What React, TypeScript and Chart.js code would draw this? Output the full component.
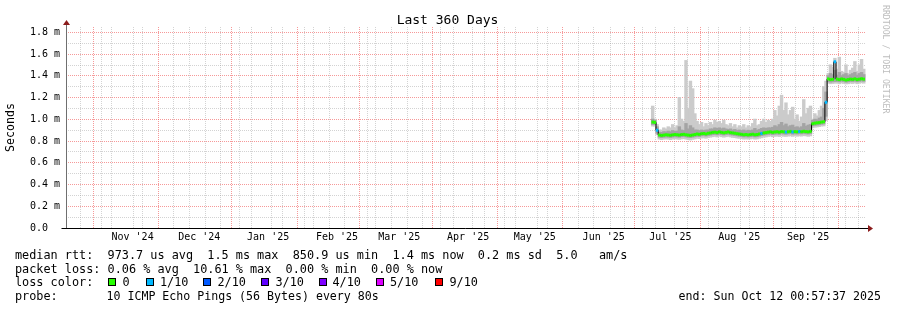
import React, { useEffect, useRef } from "react";
import { Chart, registerables } from "chart.js";

Chart.register(...registerables);

// ---------- time frame ----------
const END_TIME = Date.UTC(2025, 9, 12, 0, 57, 37);
const SPAN_DAYS = 360;
const START_TIME = END_TIME - SPAN_DAYS * 864e5;
const dayOf = (t: number) => (t - START_TIME) / 864e5;

// month grid / labels
const monthStarts: [number, number][] = [
  [2024, 10], [2024, 11], [2025, 0], [2025, 1], [2025, 2], [2025, 3],
  [2025, 4], [2025, 5], [2025, 6], [2025, 7], [2025, 8], [2025, 9],
];
const monthLabels = ["Nov '24", "Dec '24", "Jan '25", "Feb '25", "Mar '25", "Apr '25", "May '25", "Jun '25", "Jul '25", "Aug '25", "Sep '25"];
const firstWeekLine = Date.UTC(2024, 9, 20); // Sundays

// y ticks
const yTicks = [0, 0.1, 0.2, 0.3, 0.4, 0.5, 0.6, 0.7, 0.8, 0.9, 1.0, 1.1, 1.2, 1.3, 1.4, 1.5, 1.6, 1.7, 1.8];
const yTickLabels: Record<string, string> = {
  "0.0": "0.0  ", "0.2": "0.2 m", "0.4": "0.4 m", "0.6": "0.6 m", "0.8": "0.8 m",
  "1.0": "1.0 m", "1.2": "1.2 m", "1.4": "1.4 m", "1.6": "1.6 m", "1.8": "1.8 m",
};
const Y_MAX = 1.85;

// ---------- data (ms), one sample per day starting at day 264 ----------
const firstSampleDay = 264;
const median = [
  0.975, 0.972, 0.900, 0.856, 0.852, 0.855, 0.858, 0.856, 0.853, 0.857,
  0.860, 0.858, 0.855, 0.860, 0.862, 0.858, 0.855, 0.852, 0.856, 0.860,
  0.865, 0.862, 0.868, 0.870, 0.866, 0.872, 0.875, 0.880, 0.882, 0.878,
  0.885, 0.880, 0.876, 0.880, 0.884, 0.878, 0.875, 0.872, 0.868, 0.865,
  0.862, 0.858, 0.860, 0.857, 0.860, 0.863, 0.858, 0.860, 0.865, 0.870,
  0.875, 0.878, 0.882, 0.885, 0.880, 0.884, 0.886, 0.882, 0.888, 0.885,
  0.883, 0.886, 0.889, 0.884, 0.887, 0.885, 0.888, 0.886, 0.890, 0.887,
  0.885, 0.889, 0.960, 0.965, 0.968, 0.970, 0.975, 0.978, 1.157, 1.372,
  1.366, 1.368, 1.530, 1.370, 1.366, 1.372, 1.368, 1.362, 1.366, 1.370,
  1.368, 1.373, 1.366, 1.370, 1.374, 1.370,
];
const lossCount = [
  0, 0, 1, 0, 0, 0, 0, 0, 0, 0,
  0, 0, 0, 0, 0, 0, 0, 0, 0, 0,
  0, 0, 0, 0, 0, 0, 0, 0, 0, 0,
  0, 0, 0, 0, 0, 0, 0, 0, 0, 0,
  0, 0, 0, 0, 0, 0, 0, 0, 0, 1,
  0, 0, 0, 0, 0, 0, 0, 0, 0, 0,
  1, 0, 0, 1, 0, 0, 1, 0, 0, 0,
  0, 0, 0, 0, 0, 0, 0, 0, 1, 0,
  0, 0, 1, 0, 0, 0, 0, 0, 0, 0,
  0, 0, 0, 0, 0, 0,
];
const pingMin = [
  0.940, 0.940, 0.860, 0.820, 0.815, 0.820, 0.822, 0.820, 0.815, 0.820,
  0.825, 0.820, 0.818, 0.822, 0.825, 0.820, 0.815, 0.812, 0.818, 0.822,
  0.828, 0.825, 0.830, 0.832, 0.828, 0.835, 0.838, 0.842, 0.845, 0.840,
  0.848, 0.842, 0.838, 0.842, 0.846, 0.840, 0.836, 0.834, 0.830, 0.828,
  0.825, 0.820, 0.822, 0.820, 0.822, 0.826, 0.820, 0.822, 0.828, 0.832,
  0.838, 0.840, 0.845, 0.848, 0.842, 0.846, 0.848, 0.844, 0.850, 0.846,
  0.845, 0.848, 0.850, 0.846, 0.850, 0.847, 0.850, 0.848, 0.852, 0.850,
  0.846, 0.850, 0.925, 0.930, 0.932, 0.935, 0.940, 0.942, 0.990, 1.335,
  1.330, 1.332, 1.335, 1.335, 1.330, 1.336, 1.332, 1.328, 1.330, 1.335,
  1.332, 1.338, 1.330, 1.334, 1.338, 1.335,
];
const smokeLow = [
  0.955, 0.955, 0.875, 0.838, 0.834, 0.837, 0.840, 0.838, 0.835, 0.839,
  0.842, 0.840, 0.837, 0.842, 0.844, 0.840, 0.837, 0.834, 0.838, 0.842,
  0.847, 0.844, 0.850, 0.852, 0.848, 0.854, 0.857, 0.862, 0.864, 0.860,
  0.867, 0.862, 0.858, 0.862, 0.866, 0.860, 0.857, 0.854, 0.850, 0.847,
  0.844, 0.840, 0.842, 0.839, 0.842, 0.845, 0.840, 0.842, 0.847, 0.852,
  0.857, 0.860, 0.864, 0.867, 0.862, 0.866, 0.868, 0.864, 0.870, 0.867,
  0.865, 0.868, 0.871, 0.866, 0.869, 0.867, 0.870, 0.868, 0.872, 0.869,
  0.867, 0.871, 0.942, 0.947, 0.950, 0.952, 0.957, 0.960, 1.030, 1.350,
  1.345, 1.348, 1.350, 1.352, 1.348, 1.354, 1.350, 1.344, 1.348, 1.352,
  1.350, 1.355, 1.348, 1.352, 1.356, 1.352,
];
const smokeHigh = [
  1.000, 0.990, 0.930, 0.880, 0.878, 0.885, 0.882, 0.890, 0.884, 0.895,
  0.888, 0.890, 0.930, 0.900, 0.895, 0.960, 0.910, 0.940, 0.920, 0.900,
  0.900, 0.895, 0.900, 0.895, 0.900, 0.900, 0.910, 0.910, 0.920, 0.915,
  0.920, 0.912, 0.918, 0.910, 0.905, 0.910, 0.900, 0.905, 0.895, 0.900,
  0.895, 0.900, 0.892, 0.898, 0.895, 0.900, 0.915, 0.898, 0.905, 0.915,
  0.920, 0.915, 0.920, 0.920, 0.925, 0.940, 0.930, 0.950, 0.970, 0.940,
  0.955, 0.930, 0.940, 0.945, 0.925, 0.930, 0.920, 0.930, 0.960, 0.935,
  0.945, 0.950, 0.990, 1.000, 0.995, 1.010, 1.020, 1.100, 1.250, 1.400,
  1.420, 1.410, 1.450, 1.405, 1.430, 1.400, 1.410, 1.420, 1.400, 1.410,
  1.420, 1.430, 1.405, 1.420, 1.430, 1.410,
];
const pingMax = [
  1.120, 1.000, 0.950, 0.900, 0.900, 0.920, 0.910, 0.930, 0.920, 0.950,
  0.920, 0.940, 1.200, 1.000, 0.980, 1.540, 1.100, 1.350, 1.280, 1.050,
  0.980, 0.950, 0.970, 0.930, 0.960, 0.940, 0.970, 0.950, 0.990, 0.970,
  0.980, 0.960, 0.990, 0.950, 0.940, 0.960, 0.930, 0.950, 0.920, 0.940,
  0.930, 0.950, 0.920, 0.940, 0.930, 0.960, 1.000, 0.940, 0.950, 0.980,
  1.000, 0.970, 0.990, 0.980, 1.000, 1.080, 1.030, 1.120, 1.220, 1.080,
  1.150, 1.040, 1.080, 1.110, 1.000, 1.040, 0.980, 1.020, 1.180, 1.050,
  1.100, 1.120, 1.000, 1.050, 1.030, 1.080, 1.120, 1.300, 1.350, 1.420,
  1.500, 1.480, 1.560, 1.460, 1.570, 1.440, 1.430, 1.500, 1.420, 1.450,
  1.470, 1.530, 1.440, 1.500, 1.550, 1.460,
];
const lossColors: Record<number, string> = {
  0: "#26ff00", 1: "#00b8ff", 2: "#0059ff", 3: "#5e00ff", 4: "#7e00ff", 5: "#dd00ff", 9: "#ff0000",
};
const lossLegend: [string, number][] = [["0", 0], ["1/10", 1], ["2/10", 2], ["3/10", 3], ["4/10", 4], ["5/10", 5], ["9/10", 9]];

const legendRow1 = "median rtt:  973.7 us avg  1.5 ms max  850.9 us min  1.4 ms now  0.2 ms sd  5.0   am/s";
const legendRow2 = "packet loss: 0.06 % avg  10.61 % max  0.00 % min  0.00 % now";
const legendRow3 = "loss color:";
const legendProbeLabel = "probe:";
const legendProbe = "10 ICMP Echo Pings (56 Bytes) every 80s";
const legendEnd = "end: Sun Oct 12 00:57:37 2025";

const MONO = "'DejaVu Sans Mono', monospace";

const axesPlugin = {
  id: "rrdAxes",
  afterDraw(chart: any) {
    const { ctx, chartArea } = chart;
    const l = Math.round(chartArea.left) + 0.5;
    const b = Math.round(chartArea.bottom) + 0.5;
    const r = chartArea.right;
    const t = chartArea.top;
    ctx.save();
    ctx.lineWidth = 1;
    ctx.strokeStyle = "#6f6f6f";
    ctx.beginPath();
    ctx.moveTo(l, b);
    ctx.lineTo(l, t - 4);
    ctx.stroke();
    ctx.strokeStyle = "#000";
    ctx.beginPath();
    ctx.moveTo(l - 5, b);
    ctx.lineTo(r + 3, b);
    ctx.stroke();
    ctx.fillStyle = "#8b1c1c";
    ctx.beginPath();
    ctx.moveTo(l - 3.5, t - 2);
    ctx.lineTo(l + 3.5, t - 2);
    ctx.lineTo(l, t - 7);
    ctx.closePath();
    ctx.fill();
    ctx.beginPath();
    ctx.moveTo(r + 2, b - 3.5);
    ctx.lineTo(r + 2, b + 3.5);
    ctx.lineTo(r + 7, b);
    ctx.closePath();
    ctx.fill();
    ctx.restore();
  },
};

export default function App() {
  const ref = useRef<HTMLCanvasElement | null>(null);

  useEffect(() => {
    if (!ref.current) return;
    const days = median.map((_, i) => firstSampleDay + i);

    // x tick construction: each tick may carry a grid kind and/or a label
    const key = (v: number) => v.toFixed(4);
    const tickInfo = new Map<string, { value: number; grid?: string; label?: string }>();
    const addTick = (d: number, patch: { grid?: string; label?: string }) => {
      if (!(d > 0 && d < SPAN_DAYS)) return;
      const k = key(d);
      const cur = tickInfo.get(k) || { value: d };
      tickInfo.set(k, { ...cur, ...patch });
    };
    for (let t = firstWeekLine; t < END_TIME; t += 7 * 864e5) addTick(dayOf(t), { grid: "minor" });
    monthStarts.forEach(([y, m], i) => {
      addTick(dayOf(Date.UTC(y, m, 1)), { grid: "major" });
      if (i < monthLabels.length) addTick(dayOf(Date.UTC(y, m, 16)), { label: monthLabels[i] });
    });
    const xTickValues = Array.from(tickInfo.values()).map((t) => t.value).sort((a, b) => a - b);

    const RED = "rgba(240,80,80,0.58)";
    const GRAY = "rgba(150,150,150,0.42)";

    const chart = new Chart(ref.current, {
      type: "line",
      data: {
        datasets: [
          {
            type: "bar",
            data: days.map((d, i) => ({ x: d, y: [pingMin[i], pingMax[i]] })),
            backgroundColor: "#cbcbcb",
            borderWidth: 0,
            barPercentage: 1,
            categoryPercentage: 1,
            inflateAmount: 0.6,
            grouped: false,
            order: 5,
          } as any,
          {
            type: "bar",
            data: days.map((d, i) => ({ x: d, y: [smokeLow[i], smokeHigh[i]] })),
            backgroundColor: "#a4a4a4",
            borderWidth: 0,
            barPercentage: 1,
            categoryPercentage: 1,
            inflateAmount: 0.6,
            grouped: false,
            order: 4,
          } as any,
          {
            type: "line",
            data: days.map((d, i) => ({ x: d, y: median[i] })),
            borderColor: "#000",
            borderWidth: 1,
            stepped: "middle",
            pointRadius: 0,
            order: 2,
          } as any,
          {
            type: "line",
            data: days.map((d, i) => ({ x: d, y: median[i] })),
            showLine: false,
            pointStyle: "line",
            pointRadius: 1.25,
            pointBorderWidth: 3,
            pointBorderColor: lossCount.map((c) => lossColors[c]),
            order: 1,
          } as any,
        ],
      },
      options: {
        animation: false,
        responsive: false,
        devicePixelRatio: 1,
        events: [],
        layout: { padding: { left: 0, top: 27, right: 31, bottom: 62 } },
        plugins: { legend: { display: false }, tooltip: { enabled: false }, title: { display: false } },
        scales: {
          x: {
            type: "linear",
            min: 0,
            max: SPAN_DAYS,
            offset: false,
            afterBuildTicks: (s: any) => { s.ticks = xTickValues.map((v) => ({ value: v })); },
            afterFit: (s: any) => { s.height = 20; },
            ticks: {
              autoSkip: false,
              maxRotation: 0,
              minRotation: 0,
              padding: 3,
              color: "#000",
              font: { family: MONO, size: 10 },
              callback: (v: any) => tickInfo.get(key(Number(v)))?.label ?? "",
            },
            grid: {
              drawTicks: false,
              lineWidth: 1,
              color: (c: any) => {
                const g = c.tick ? tickInfo.get(key(c.tick.value))?.grid : undefined;
                return g === "major" ? RED : g === "minor" ? GRAY : "rgba(0,0,0,0)";
              },
            },
            border: { display: false, dash: [1, 1] },
          },
          y: {
            type: "linear",
            min: 0,
            max: Y_MAX,
            afterBuildTicks: (s: any) => { s.ticks = yTicks.map((v) => ({ value: v })); },
            afterFit: (s: any) => { s.width = 66; },
            ticks: {
              autoSkip: false,
              padding: 6,
              color: "#000",
              font: { family: MONO, size: 10 },
              callback: (v: any) => yTickLabels[Number(v).toFixed(1)] ?? "",
            },
            grid: {
              drawTicks: false,
              lineWidth: 1,
              color: (c: any) => {
                if (!c.tick) return "rgba(0,0,0,0)";
                const v = c.tick.value;
                if (Math.abs(v) < 1e-6) return "rgba(0,0,0,0)";
                return yTickLabels[Number(v).toFixed(1)] ? RED : GRAY;
              },
            },
            border: { display: false, dash: [1, 1] },
            title: {
              display: true,
              text: "Seconds",
              color: "#000",
              font: { family: MONO, size: 11.6 },
              padding: { top: 4, bottom: 0 },
            },
          },
        },
      } as any,
      plugins: [axesPlugin],
    });
    return () => chart.destroy();
  }, []);

  const rowTop = [248, 261.5, 275, 289];
  const textStyle = (x: number, row: number, size = 11.83): React.CSSProperties => ({
    position: "absolute", left: x, top: rowTop[row], font: `${size}px ${MONO}`, lineHeight: "14px", whiteSpace: "pre", color: "#000",
  });
  const squareX = [108, 145.5, 203, 261, 319, 376, 434.5];
  const labelX = [122.5, 160, 217.5, 275.5, 332.5, 390, 449.5];

  return (
    <div style={{ position: "relative", width: 897, height: 310, overflow: "hidden", background: "#fff" }}>
      <style>{"body{margin:0}"}</style>
      <canvas ref={ref} width={897} height={310} style={{ position: "absolute", left: 0, top: 0 }} />
      <div style={{ position: "absolute", left: 0, width: 895, top: 12, textAlign: "center", font: `13px ${MONO}`, lineHeight: "16px", color: "#000", whiteSpace: "pre" }}>Last 360 Days</div>
      <div style={{ position: "absolute", left: 881, top: 5, font: `8.2px ${MONO}`, lineHeight: "10px", color: "#bdbdbd", writingMode: "vertical-rl", whiteSpace: "pre" }}>RRDTOOL / TOBI OETIKER</div>
      <div style={textStyle(15, 0)}>{legendRow1}</div>
      <div style={textStyle(15, 1)}>{legendRow2}</div>
      <div style={textStyle(15, 2)}>{legendRow3}</div>
      {lossLegend.map(([lbl, c], i) => (
        <React.Fragment key={lbl}>
          <div style={{ position: "absolute", left: squareX[i], top: 278, width: 8, height: 8, boxSizing: "border-box", border: "1px solid #000", background: lossColors[c] }} />
          <div style={textStyle(labelX[i], 2)}>{lbl}</div>
        </React.Fragment>
      ))}
      <div style={textStyle(15, 3)}>{legendProbeLabel}</div>
      <div style={textStyle(106.5, 3, 11.6)}>{legendProbe}</div>
      <div style={{ ...textStyle(0, 3, 11.6), left: undefined, right: 16 }}>{legendEnd}</div>
    </div>
  );
}
